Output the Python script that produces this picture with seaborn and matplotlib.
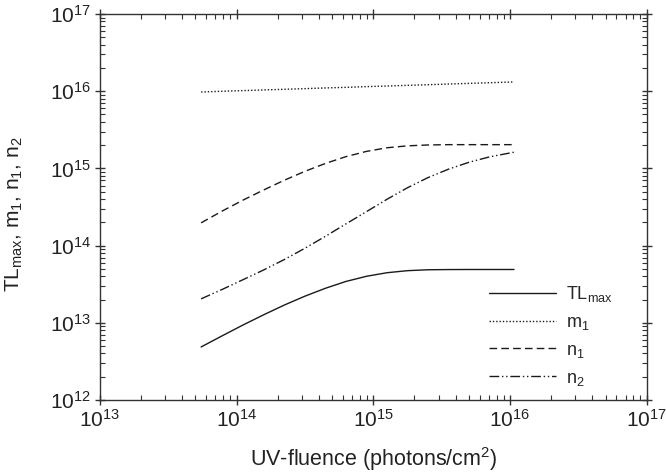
import matplotlib
matplotlib.use("Agg")
import matplotlib.pyplot as plt
import numpy as np
import pandas as pd
import seaborn as sns
from matplotlib.ticker import LogLocator

# values (log-log)
fluence = [5.5e13, 7.9e13, 1.12e14, 1.58e14, 2.24e14, 3.16e14, 4.47e14, 6.31e14,
           8.91e14, 1.26e15, 1.78e15, 2.51e15, 3.55e15, 5.01e15, 7.08e15, 1.07e16]
tl_max = [4.86e12, 6.82e12, 9.4e12, 1.27e13, 1.70e13, 2.21e13, 2.80e13, 3.43e13,
          4.00e13, 4.45e13, 4.73e13, 4.86e13, 4.89e13, 4.9e13, 4.9e13, 4.9e13]
m1 = [9.77e15, 9.98e15, 1.018e16, 1.038e16, 1.059e16, 1.079e16, 1.102e16, 1.122e16,
      1.146e16, 1.167e16, 1.191e16, 1.213e16, 1.239e16, 1.262e16, 1.288e16, 1.318e16]
n1 = [1.97e14, 2.82e14, 3.90e14, 5.26e14, 7.04e14, 9.16e14, 1.16e15, 1.42e15,
      1.66e15, 1.85e15, 1.96e15, 2.01e15, 2.03e15, 2.03e15, 2.03e15, 2.03e15]
n2 = [2.04e13, 2.72e13, 3.63e13, 4.84e13, 6.61e13, 9.23e13, 1.32e14, 1.91e14,
      2.75e14, 3.98e14, 5.62e14, 7.59e14, 9.77e14, 1.20e15, 1.41e15, 1.62e15]

names = ["TL", "m1", "n1", "n2"]
labels = ["TL$_{\\mathregular{max}}$", "m$_\\mathregular{1}$", "n$_\\mathregular{1}$", "n$_\\mathregular{2}$"]

df = pd.concat([
    pd.DataFrame({"x": fluence, "y": vals, "series": nm})
    for nm, vals in zip(names, [tl_max, m1, n1, n2])
])

sns.set_theme(style="ticks")
plt.rcParams["font.family"] = ["Liberation Sans", "DejaVu Sans"]
plt.rcParams["mathtext.fontset"] = "custom"
plt.rcParams["mathtext.rm"] = "Liberation Sans"
plt.rcParams["mathtext.it"] = "Liberation Sans"

fig = plt.figure(figsize=(6.66, 4.75), dpi=100)
ax = fig.add_axes([0.150, 0.158, 0.821, 0.8125])

ink = "#1a1a1a"
dashes = {"TL": "", "m1": (1, 1.4), "n1": (5.5, 3), "n2": (7, 2, 1, 2, 1, 2)}
sns.lineplot(data=df, x="x", y="y", hue="series", style="series",
             palette=[ink] * 4, dashes=dashes, linewidth=1.0, ax=ax,
             legend=True)

ax.set_xscale("log")
ax.set_yscale("log")
ax.set_xlim(1e13, 1e17)
ax.set_ylim(1e12, 1e17)
ax.xaxis.set_major_locator(LogLocator(base=10, numticks=10))
ax.yaxis.set_major_locator(LogLocator(base=10, numticks=10))
ax.xaxis.set_minor_locator(LogLocator(base=10, subs=np.arange(2, 10), numticks=20))
ax.yaxis.set_minor_locator(LogLocator(base=10, subs=np.arange(2, 10), numticks=20))

for s in ax.spines.values():
    s.set_visible(True)
    s.set_color("#333333")
    s.set_linewidth(1.0)

ax.tick_params(which="major", direction="inout", length=7, width=1, color="#333333",
               top=True, right=True, labelsize=15, pad=3, labelcolor="#222222")
ax.tick_params(which="minor", direction="in", length=3.5, width=0.8, color="#333333",
               top=True, right=True)

ax.set_xlabel("UV-fluence (photons/cm$^\\mathregular{2}$)", fontsize=15.5, color="#222222",
              labelpad=10)
ax.set_ylabel("TL$_{\\mathregular{max}}$, m$_\\mathregular{1}$, n$_\\mathregular{1}$, n$_\\mathregular{2}$",
              fontsize=15, color="#222222")
ax.yaxis.set_label_coords(-0.137, 0.48)

handles, _ = ax.get_legend_handles_labels()
ax.legend(handles[-4:], labels, loc="lower right", bbox_to_anchor=(0.952, 0.013),
          frameon=False, fontsize=13, handlelength=3.7, handletextpad=0.6,
          labelspacing=0.55, borderaxespad=0.0)

fig.savefig("out.png", dpi=100)
